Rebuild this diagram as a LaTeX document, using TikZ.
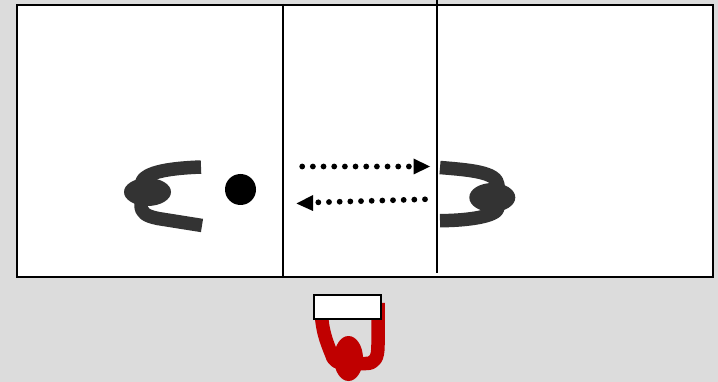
\documentclass[tikz,border=0pt]{standalone}
\usetikzlibrary{arrows.meta}
\definecolor{bgc}{HTML}{DCDCDC}
\definecolor{dark}{HTML}{333333}
\definecolor{redc}{HTML}{C00000}
\tikzset{
  arm/.style={line width=13.5pt,line join=round},
  darkarm/.style={arm,draw=dark},
  redarm/.style={arm,draw=redc},
  wall/.style={draw=black,line width=2pt},
  dots/.style={draw=black,line width=5.8pt,line cap=round,dash pattern=on 0pt off 10.67pt},
  tip/.style={fill=black},
}
\begin{document}
\begin{tikzpicture}[x=1pt,y=-1pt]
\useasboundingbox (0,0) rectangle (718,382);
\fill[bgc] (0,0) rectangle (718,382);
\fill[white] (17,5.5) rectangle (713,277);
\draw[wall] (17,5.5) rectangle (713,277);
\draw[wall] (283,4) -- (283,277);
\draw[wall] (436.7,0) -- (436.7,273);
% left figure
\draw[darkarm] (201,167) .. controls (175,168) and (143,171) .. (141,184) -- (141,205) .. controls (141,213) and (146,216) .. (158,218.5) -- (202,225.5);
\fill[dark] (147.5,192) ellipse [x radius=23.5,y radius=14];
\fill[black] (240.5,189.5) circle [radius=15.5];
% dots
\draw[dots] (302.2,166.5) -- (412,166.5);
\fill[tip] (413.5,158.5) -- (430,166.5) -- (413.5,174.5) -- cycle;
\draw[dots] (425,199.3) -- (316,202.4);
\fill[tip] (296.5,203.5) -- (313,195) -- (313,211) -- cycle;
% right figure
\draw[darkarm] (440,167.5) .. controls (470,170) and (497,172) .. (498,185) -- (498,208) .. controls (497,216) and (470,220.5) .. (440,220.7);
\fill[dark] (492.3,197.5) ellipse [x radius=23,y radius=14.5];
% red figure
\draw[redarm] (321.5,316) .. controls (323,335) and (328,345) .. (333,358) .. controls (336,364) and (345,363.5) .. (350,363.5) -- (366,363.5) .. controls (375,363.5) and (378,358) .. (378,345) -- (378,303);
\fill[redc] (348.5,358.5) ellipse [x radius=14.5,y radius=22.5];
\node[draw=black,fill=white,line width=2pt,minimum width=67pt,minimum height=24pt,inner sep=0pt,anchor=north west] (box) at (313,294) {};
\end{tikzpicture}
\end{document}
